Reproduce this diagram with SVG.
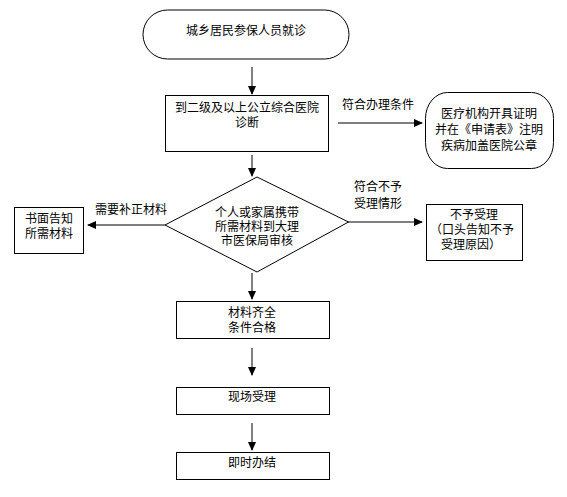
<svg xmlns="http://www.w3.org/2000/svg" width="567" height="497" viewBox="0 0 567 497">
<defs>
<style>
text{font-family:"Noto Sans CJK SC","Liberation Sans",sans-serif;font-size:12px;fill:#000;text-anchor:middle;}
.s{fill:#fff;stroke:#000;stroke-width:1;}
.c{stroke:#000;stroke-width:1;fill:none;}
.g{stroke:#555;stroke-width:1.6;fill:none;}
</style>
<marker id="ah" markerWidth="9" markerHeight="8" refX="8" refY="4" orient="auto" markerUnits="userSpaceOnUse">
<path d="M0,0 L9,4 L0,8 Z" fill="#000"/>
</marker>
</defs>
<rect width="567" height="497" fill="#fff"/>
<g id="connectors">
<line class="c" x1="252" y1="67" x2="252" y2="94" marker-end="url(#ah)"/>
<line class="c" x1="252" y1="155" x2="252" y2="176" marker-end="url(#ah)"/>
<line class="g" x1="338" y1="123" x2="422" y2="123" marker-end="url(#ah)"/>
<line class="c" x1="348" y1="222" x2="422" y2="222" marker-end="url(#ah)"/>
<line class="g" x1="165" y1="225" x2="88" y2="225" marker-end="url(#ah)"/>
<line class="c" x1="252" y1="273" x2="252" y2="299" marker-end="url(#ah)"/>
<line class="c" x1="252" y1="348" x2="252" y2="375" marker-end="url(#ah)"/>
<line class="c" x1="252" y1="423" x2="252" y2="450" marker-end="url(#ah)"/>
<text x="378" y="109">符合办理条件</text>
<text x="378" y="191">符合不予</text>
<text x="378" y="208">受理情形</text>
<text x="131" y="214">需要补正材料</text>
</g>
<g id="start">
<rect class="s" x="143" y="10" width="206" height="49" rx="24.5" ry="24.5"/>
<text x="246" y="35">城乡居民参保人员就诊</text>
</g>
<g id="diagnose">
<rect class="s" x="165.5" y="95.5" width="163" height="56"/>
<text x="247" y="112">到二级及以上公立综合医院</text>
<text x="247" y="127">诊断</text>
</g>
<g id="certify">
<rect class="s" x="425.5" y="92.5" width="128" height="76" rx="22" ry="26"/>
<text x="489" y="118">医疗机构开具证明</text>
<text x="489" y="134">并在《申请表》注明</text>
<text x="489" y="150">疾病加盖医院公章</text>
</g>
<g id="review">
<polygon class="s" points="257,177 348.5,222 257,272 165,225"/>
<text x="257" y="217">个人或家属携带</text>
<text x="257" y="231">所需材料到大理</text>
<text x="257" y="245">市医保局审核</text>
</g>
<g id="reject">
<rect class="s" x="426.5" y="204.5" width="96" height="56"/>
<text x="474" y="219">不予受理</text>
<text x="472" y="234">（口头告知不予</text>
<text x="471" y="249">受理原因）</text>
</g>
<g id="supplement">
<rect class="s" x="14.5" y="207.5" width="69" height="46"/>
<text x="49" y="223">书面告知</text>
<text x="49" y="238">所需材料</text>
</g>
<g id="complete">
<rect class="s" x="176.5" y="301.5" width="153" height="37"/>
<text x="252" y="317">材料齐全</text>
<text x="252" y="332">条件合格</text>
</g>
<g id="accept">
<rect class="s" x="176.5" y="387.5" width="153" height="27"/>
<text x="252" y="401">现场受理</text>
</g>
<g id="finish">
<rect class="s" x="176.5" y="452.5" width="153" height="27"/>
<text x="252" y="467">即时办结</text>
</g>
</svg>
